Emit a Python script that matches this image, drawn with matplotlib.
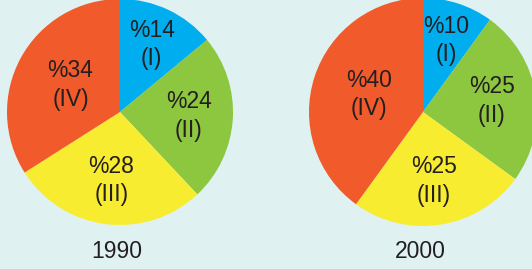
import numpy as np
import matplotlib
matplotlib.use("Agg")
import matplotlib.pyplot as plt

# Data
categories = ["(I)", "(II)", "(III)", "(IV)"]
values_1990 = [14, 24, 28, 34]
values_2000 = [10, 25, 25, 40]
years = ["1990", "2000"]

# Style
colors = ["#00AEEF", "#8DC63F", "#F8EC31", "#F15A2B"]
bg = "#DFF1F1"
text_color = "#231F20"
label_r = [0.66, 0.61, 0.61, 0.50]

W, H = 532, 269
fig = plt.figure(figsize=(W / 100, H / 100), dpi=100, facecolor=bg)
ax = fig.add_axes([0, 0, 1, 1])
ax.set_facecolor(bg)

font = ["Liberation Sans", "DejaVu Sans"]

pies = [((120, H - 112), 113, values_1990, years[0]),
        ((423, H - 112), 114, values_2000, years[1])]

for center, radius, vals, year in pies:
    wedges, _ = ax.pie(vals, colors=colors, startangle=90, counterclock=False,
                       center=center, radius=radius, frame=True,
                       wedgeprops=dict(linewidth=0))
    for w, v, cat, d in zip(wedges, vals, categories, label_r):
        mid = np.deg2rad((w.theta1 + w.theta2) / 2)
        x = center[0] + d * radius * np.cos(mid)
        y = center[1] + d * radius * np.sin(mid)
        ax.text(x, y, f"%{v}\n{cat}", ha="center", va="center",
                fontsize=16.5, color=text_color, family=font, linespacing=1.32)
    ax.text(center[0] - 3, H - 251, year, ha="center", va="center",
            fontsize=16.5, color=text_color, family=font)

ax.set_xlim(0, W)
ax.set_ylim(0, H)
ax.set_aspect("equal")
ax.axis("off")
fig.savefig("out.png", dpi=100, facecolor=bg)
